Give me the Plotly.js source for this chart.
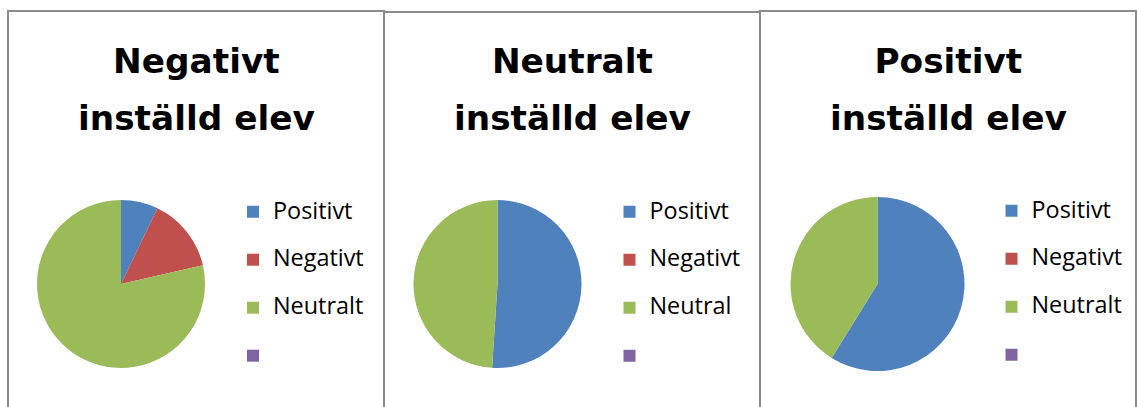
<!DOCTYPE html>
<html>
<head>
<meta charset="utf-8">
<script src="https://cdn.plot.ly/plotly-3.0.1.min.js"></script>
<style>
html,body{margin:0;padding:0;background:#fff;}
#chart{width:1137px;height:407px;}
svg text{font-variant-ligatures:none;}
</style>
</head>
<body>
<div id="chart"></div>
<script>
// ---- data ----
const titles = ['Negativt inställd elev', 'Neutralt inställd elev', 'Positivt inställd elev'];
const titleLine1 = ['Negativt', 'Neutralt', 'Positivt'];
const titleLine2 = ['inställd elev', 'inställd elev', 'inställd elev'];
const categories1 = ['Positivt', 'Negativt', 'Neutralt', ''];
const categories2 = ['Positivt', 'Negativt', 'Neutral', ''];
const categories3 = ['Positivt', 'Negativt', 'Neutralt', ''];
const values1 = [1, 2, 11, 0];
const values2 = [25, 0, 24, 0];
const values3 = [10, 0, 7, 0];
const sliceColors = ['#4F81BD', '#C0504D', '#9BBB59', '#8064A2'];

// ---- layout helpers (pixels -> paper) ----
const W = 1137, H = 407;
const px = x => x / W;
const py = y => 1 - y / H;
const LEGEND_FONT = '"Open Sans", sans-serif';
const TITLE_FONT = '"DejaVu Sans", sans-serif';

// second (blank) line gives Office-like spacing between legend rows;
// a per-chart number of trailing spaces keeps labels distinct across the three legends
const legendLabel = (s, i) => "<span style='font-size:23.4px'>" + s + "</span><br>" + ' '.repeat(i + 1);

const panels = [
  {cats: categories1, vals: values1, left: 8,   top: 11, cx: 121,   cy: 284, r: 84, lx: 233,   ly: 194},
  {cats: categories2, vals: values2, left: 384, top: 12, cx: 497.5, cy: 284, r: 84, lx: 609.5, ly: 194},
  {cats: categories3, vals: values3, left: 760, top: 11, cx: 877.5, cy: 284, r: 87, lx: 991.5, ly: 193}
];
const PW = 376;

const traces = panels.map((p, i) => ({
  type: 'pie',
  name: titles[i],
  labels: p.cats.map(s => legendLabel(s, i)),
  values: p.vals,
  sort: false,
  direction: 'clockwise',
  rotation: 0,
  textinfo: 'none',
  hoverinfo: 'skip',
  marker: {colors: sliceColors, line: {width: 0}},
  domain: {x: [px(p.cx - p.r), px(p.cx + p.r)], y: [py(p.cy + p.r), py(p.cy - p.r)]},
  legend: i === 0 ? 'legend' : 'legend' + (i + 1),
  showlegend: true
}));

const shapes = panels.map(p => ({
  type: 'rect', xref: 'paper', yref: 'paper',
  x0: px(p.left), x1: px(p.left + PW), y0: py(p.top), y1: py(H + 20),
  line: {color: '#8C8C8C', width: 2}, fillcolor: 'rgba(0,0,0,0)', layer: 'below'
}));

const annotations = panels.map((p, i) => ({
  xref: 'paper', yref: 'paper',
  x: px(p.left + PW / 2), y: py(38.5), xanchor: 'center', yanchor: 'top',
  showarrow: false,
  text: "<span style='font-size:34.3px'>" + titleLine1[i] + "</span><br><span style='font-size:34.3px'>" + titleLine2[i] + "</span>",
  font: {family: TITLE_FONT, size: 44, color: '#000', weight: 'bold'}
}));

const legendBase = (p) => ({
  x: px(p.lx), y: py(p.ly), xanchor: 'left', yanchor: 'top',
  bgcolor: 'rgba(0,0,0,0)', borderwidth: 0,
  font: {family: LEGEND_FONT, size: 17.3, color: '#000'},
  valign: 'top', traceorder: 'normal', itemclick: false, itemdoubleclick: false
});

const layout = {
  width: W, height: H,
  margin: {l: 0, r: 0, t: 0, b: 0},
  paper_bgcolor: '#fff',
  showlegend: true,
  legend: legendBase(panels[0]),
  legend2: legendBase(panels[1]),
  legend3: legendBase(panels[2]),
  shapes: shapes,
  annotations: annotations
};

Plotly.newPlot('chart', traces, layout, {staticPlot: true, displayModeBar: false});
</script>
</body>
</html>
